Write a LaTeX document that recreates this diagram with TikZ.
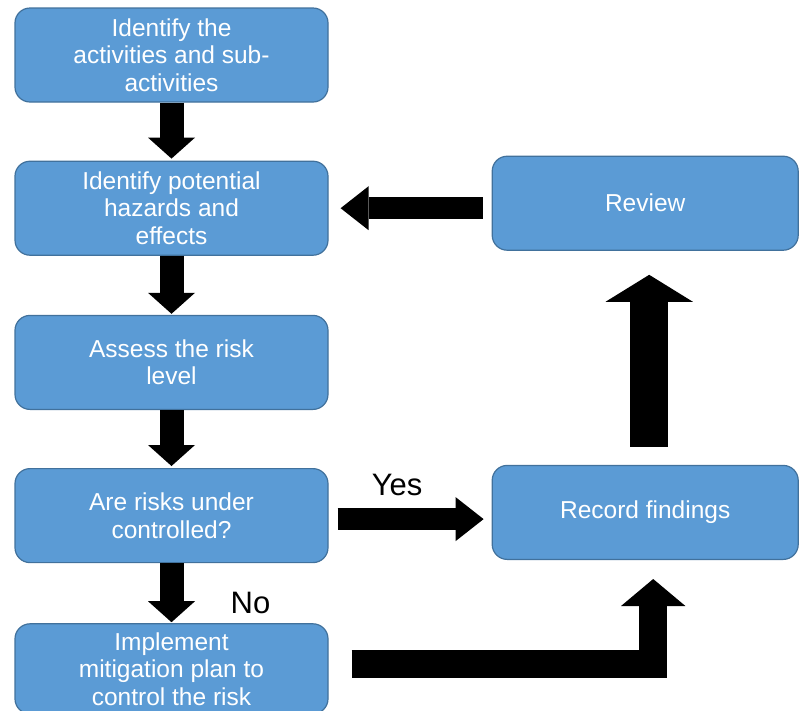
\documentclass[tikz,border=0pt]{standalone}
\usepackage{fontspec}
\setmainfont{Liberation Sans}
\usetikzlibrary{positioning,arrows.meta}
\definecolor{boxblue}{HTML}{5B9BD5}
\definecolor{boxedge}{HTML}{41719C}

\begin{document}
\begin{tikzpicture}[
    x=1pt, y=-1pt,
    stage/.style={draw=boxedge, fill=boxblue, line width=1.2pt,
      rounded corners=15pt, minimum width=313pt, minimum height=94pt,
      inner sep=0pt, align=center, text=white,
      font=\fontsize{24.5}{27.5}\selectfont},
    flow/.style={line width=24pt,
      -{Triangle[width=47pt, length=21pt, line width=0pt]}},
    sideflow/.style={line width=21.5pt,
      -{Triangle[width=44pt, length=28pt, line width=0pt]}},
    bigflow/.style={line width=#1,
      -{Triangle[width=2.3*#1, length=27pt, line width=0pt]}},
    answer/.style={font=\fontsize{31}{36}\selectfont, anchor=base}
  ]
    \useasboundingbox (0,0) rectangle (799,710);

    % left column
    \node[stage] (activities) at (171.5,55)
      {Identify the\\activities and sub-\\activities};
    \node[stage, below=58pt of activities] (hazards)
      {Identify potential\\hazards and\\effects};
    \node[stage, below=59pt of hazards] (assess)
      {Assess the risk\\level};
    \node[stage, below=58pt of assess] (decision)
      {Are risks under\\controlled?};
    \node[stage, below=60pt of decision, minimum height=90pt] (mitigation)
      {Implement\\mitigation plan to\\control the risk};

    % right column
    \node[stage, minimum width=306pt, right=163pt of hazards, yshift=5pt]
      (review) {Review};
    \node[stage, minimum width=306pt, below=214pt of review]
      (record) {Record findings};

    % block arrows
    \draw[flow, shorten >=2pt] (activities) -- (hazards);
    \draw[flow, shorten >=1pt] (hazards) -- (assess);
    \draw[flow, shorten >=2pt] (assess) -- (decision);
    \draw[flow, shorten >=1pt] (decision) -- (mitigation)
      node[answer, pos=0.83, xshift=79pt] {No};

    \draw[sideflow, shorten <=9pt, shorten >=12pt]
      (review.west |- hazards.east) -- (hazards.east);

    \coordinate (yesstart) at ([yshift=-3.5pt]decision.east);
    \draw[sideflow, shorten <=9pt, shorten >=8pt]
      (yesstart) -- (yesstart -| record.west)
      node[answer, pos=0.42, yshift=24pt] {Yes};

    \draw[bigflow=38pt, shorten <=18pt, shorten >=24pt]
      ([xshift=4pt]record.north) -- ([xshift=4pt]review.south);

    \draw[bigflow=28pt, shorten <=23pt, shorten >=19pt]
      ([yshift=4.5pt]mitigation.east) -| ([xshift=8pt]record.south);
  \end{tikzpicture}
\end{document}
